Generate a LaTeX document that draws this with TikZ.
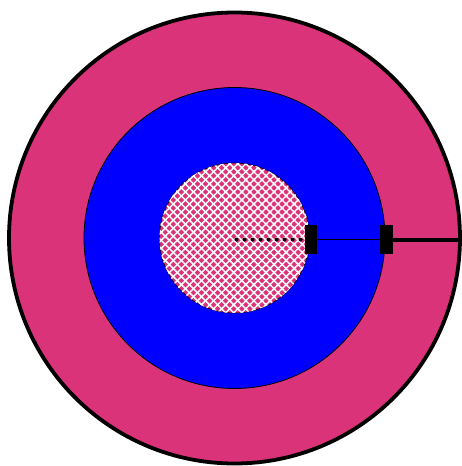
\documentclass[tikz,border=0pt]{standalone}
\usetikzlibrary{patterns.meta,positioning}
\definecolor{ringpink}{RGB}{219,51,122}
\definecolor{ringblue}{RGB}{0,0,255}
\tikzset{
  ring/.style    = {circle, draw, inner sep=0pt},
  hatch/.style   = {pattern={Lines[angle=#1,distance=5.7pt,line width=1.5pt]},
                    pattern color=white},
  clamp/.style   = {fill=black, inner sep=0pt, minimum width=12.5pt, minimum height=29pt},
  probe/.style   = {line width=4pt, line cap=round, dash pattern=on 0pt off 8pt},
  thinwire/.style= {line width=1.6pt},
  thickwire/.style={line width=4pt},
}
\begin{document}
\begin{tikzpicture}[x=1pt,y=1pt]
  \useasboundingbox (-234.5,-228) rectangle (227.5,238);
  % rings
  \node[ring, line width=3.8pt, fill=ringpink, minimum size=451pt] (outer) at (0,0) {};
  \node[ring, line width=0.8pt, fill=ringblue, minimum size=301pt] (middle) at (0,0) {};
  \node[ring, line width=0.6pt, fill=ringpink, minimum size=150pt,
        postaction={hatch=45}, postaction={hatch=-45}] (core) at (0,0) {};
  % clamps on the boundaries
  \coordinate (origin) at (2,-1.5);
  \node[clamp] (c1) at (76.5,-1.5) {};
  \node[clamp] (c2) at (152,-1.5) {};
  \draw[probe] (origin) -- (c1.west);
  \draw[thinwire] (c1.east) -- (c2.west);
  \draw[thickwire] (c2.east) -- (c2.east -| outer.east);
\end{tikzpicture}
\end{document}
